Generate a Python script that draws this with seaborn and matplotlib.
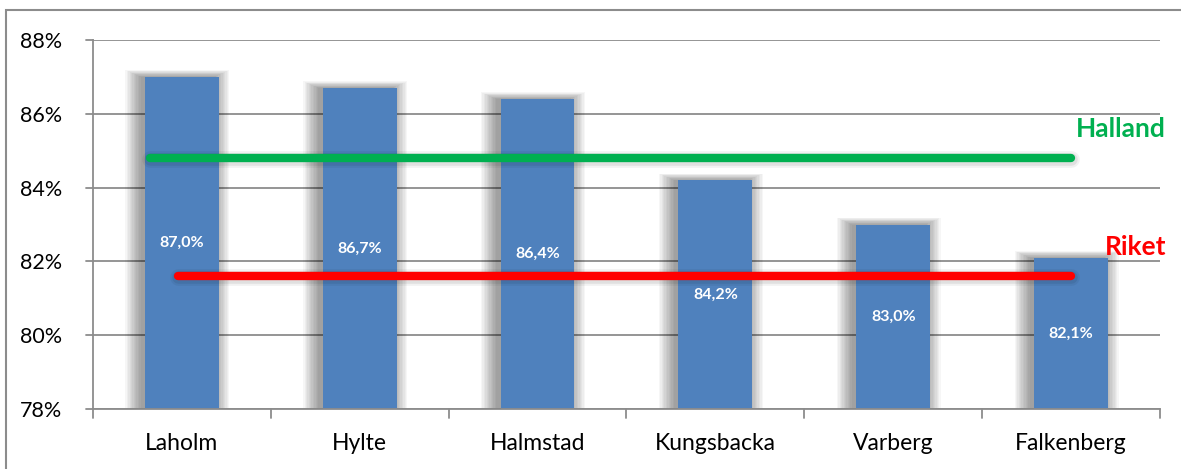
import matplotlib
matplotlib.use("Agg")
import matplotlib.pyplot as plt
import seaborn as sns
import pandas as pd
from matplotlib.patches import Rectangle

categories = ["Laholm", "Hylte", "Halmstad", "Kungsbacka", "Varberg", "Falkenberg"]
values = [87.0, 86.7, 86.4, 84.2, 83.0, 82.1]
value_labels = ["87,0%", "86,7%", "86,4%", "84,2%", "83,0%", "82,1%"]
halland = 84.8
riket = 81.6
yticks = [78, 80, 82, 84, 86, 88]

sns.set_theme(style="white")
plt.rcParams["font.family"] = ["Lato", "DejaVu Sans"]

df = pd.DataFrame({"kommun": categories, "andel": values})

fig = plt.figure(figsize=(11.81, 4.69), dpi=100)
ax = fig.add_axes([0.0787, 0.1279, 0.9035, 0.7868])

bar_w = 0.415
# soft blurred shadow behind bars (offset to the left)
n_layers = 12
for i, v in enumerate(values):
    for k in range(n_layers):
        f = k / (n_layers - 1)
        w = bar_w + 0.17 * (1 - f)
        ax.bar(i - 0.025, v - 78 + 0.18 * (1 - f), bottom=78, width=w,
               color="black", alpha=0.035, zorder=1, linewidth=0)

sns.barplot(data=df, x="kommun", y="andel", color="#4F81BD", saturation=1,
            width=bar_w, ax=ax, zorder=2, linewidth=0, edgecolor="none")

ax.set_ylim(78, 88)
ax.set_xlim(-0.5, 5.5)
ax.set_yticks(yticks)
ax.set_yticklabels([f"{t}%" for t in yticks], fontsize=15.5, color="black")
ax.tick_params(axis="x", labelsize=16.5, colors="black", length=0, pad=17)
ax.tick_params(axis="y", length=0, pad=22)
for t in yticks:
    ax.axhline(t, color="#8C8C8C", lw=1.3, zorder=0)
    ax.plot([-0.54, -0.5], [t, t], color="#8C8C8C", lw=1.3, clip_on=False)
for b in range(7):
    ax.plot([b - 0.5, b - 0.5], [78, 77.75], color="#8C8C8C", lw=1.3, clip_on=False)
ax.set_xlabel("")
ax.set_ylabel("")
for s in ["top", "right"]:
    ax.spines[s].set_visible(False)
for s in ["left", "bottom"]:
    ax.spines[s].set_color("#8C8C8C")
    ax.spines[s].set_linewidth(1.3)

# reference lines with soft shadow
for lw_s, a in [(12, 0.05), (9, 0.07)]:
    ax.plot([-0.18, 5.0], [halland - 0.03, halland - 0.03], color="black", alpha=a,
            lw=lw_s, solid_capstyle="round", zorder=3)
    ax.plot([-0.02, 5.0], [riket - 0.03, riket - 0.03], color="black", alpha=a,
            lw=lw_s, solid_capstyle="round", zorder=3)
ax.plot([-0.18, 5.0], [halland, halland], color="#00B050", lw=6,
        solid_capstyle="round", zorder=4)
ax.plot([-0.02, 5.0], [riket, riket], color="#FF0000", lw=6,
        solid_capstyle="round", zorder=4)
ax.text(5.535, halland + 0.8, "Halland", color="#00B050", fontsize=19,
        fontweight="bold", ha="right", va="center", zorder=5, clip_on=False)
ax.text(5.535, riket + 0.8, "Riket", color="#FF0000", fontsize=19,
        fontweight="bold", ha="right", va="center", zorder=5, clip_on=False)

for i, v in enumerate(values):
    ax.text(i, (v + 78) / 2, value_labels[i], color="white", fontsize=11.5,
            fontweight="bold", ha="center", va="center", zorder=5)

# outer chart frame
fig.patches.append(Rectangle((6 / 1181, -0.1), 1.2, (459 / 469) + 0.1,
                             transform=fig.transFigure, fill=False,
                             edgecolor="#8C8C8C", lw=1.5))

fig.savefig("out.png", dpi=100)
